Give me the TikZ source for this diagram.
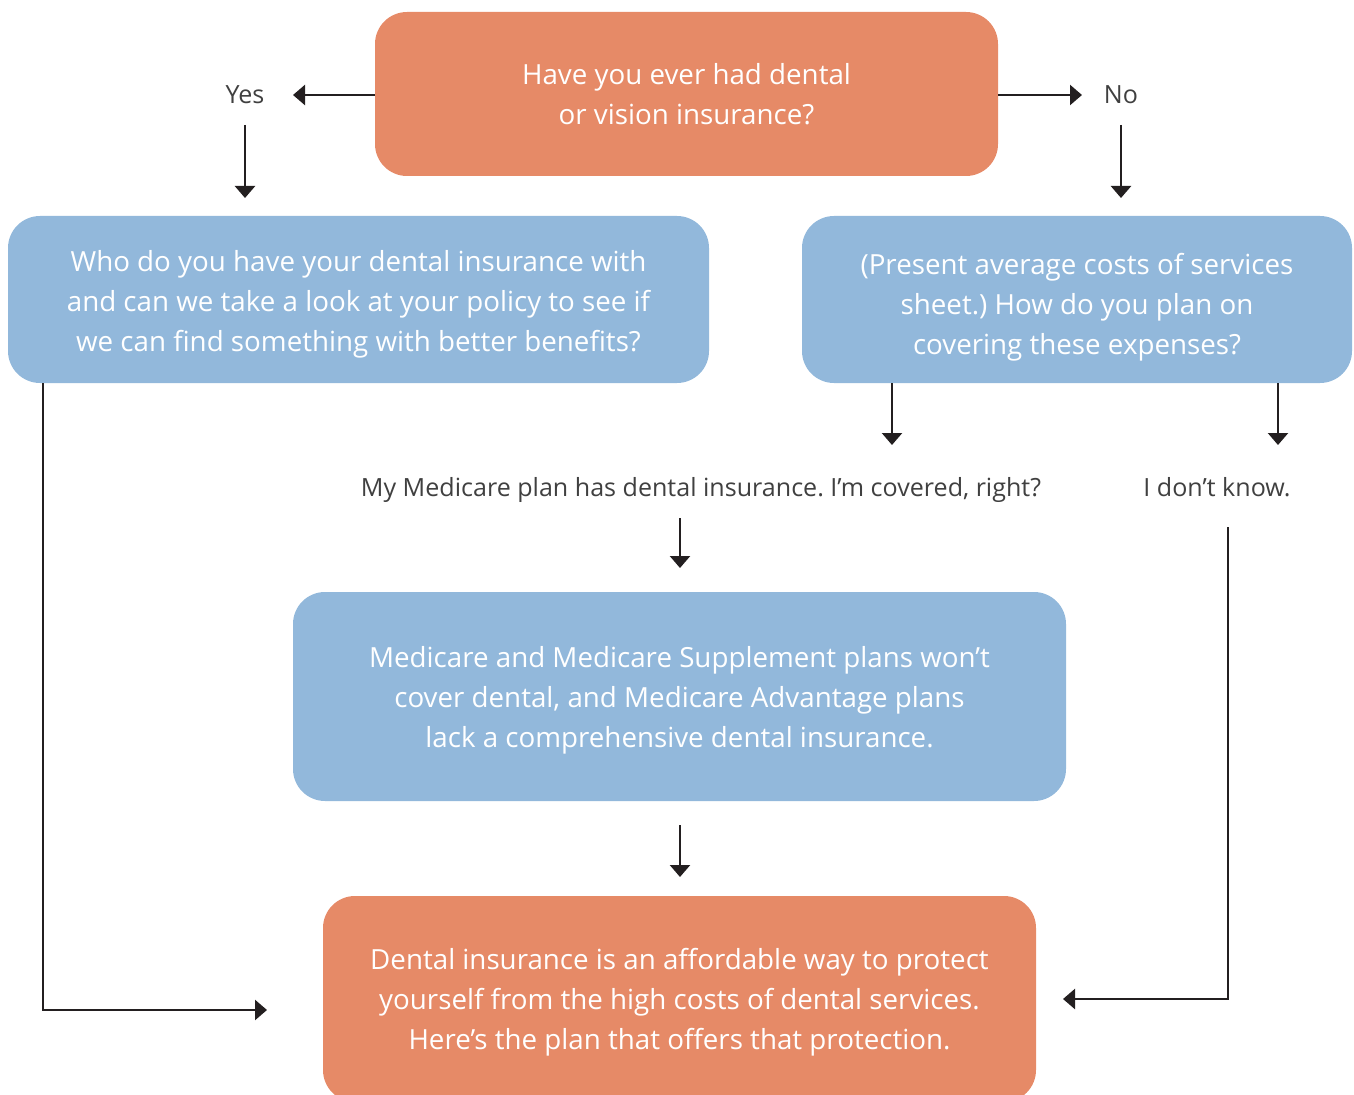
\documentclass[tikz,border=0pt]{standalone}
\usepackage{fontspec}
\setmainfont{Open Sans}
\frenchspacing
\usetikzlibrary{arrows.meta,calc}
\definecolor{boxorange}{HTML}{E68A67}
\definecolor{boxblue}{HTML}{92B8DB}
\definecolor{labelgray}{HTML}{404040}
\definecolor{arrowblack}{HTML}{231F20}
\tikzset{
  qbox/.style={rectangle, rounded corners=24pt, draw=none, inner sep=0pt},
  orangebox/.style={qbox, fill=boxorange},
  bluebox/.style={qbox, fill=boxblue},
  qtext/.style={align=center, text=white, font=\fontsize{20.8}{30}\selectfont, inner sep=0pt},
  lbl/.style={text=labelgray, font=\fontsize{18.8}{24}\selectfont, inner sep=0pt},
  arr/.style={draw=arrowblack, line width=1.8pt, -{Triangle[width=15pt,length=9pt]}},
}
\begin{document}
\begin{tikzpicture}[x=0.75pt,y=-0.75pt]
\useasboundingbox (0,0) rectangle (1354,1095);
% boxes
\node[orangebox, minimum width=623*0.75pt, minimum height=164*0.75pt,
  label={[qtext]center:{Have you ever had dental\\or vision insurance?}}] (q1) at (686.5,94) {};
\node[bluebox, minimum width=701*0.75pt, minimum height=167*0.75pt,
  label={[qtext, yshift=-3.75pt]center:{Who do you have your dental insurance with\\and can we take a look at your policy to see if\\we can find something with better benefits?}}] (q2) at (358.5,299.5) {};
\node[bluebox, minimum width=550*0.75pt, minimum height=167*0.75pt,
  label={[qtext, yshift=-6pt]center:{(Present average costs of services\\sheet.) How do you plan on\\covering these expenses?}}] (q3) at (1077,299.5) {};
\node[bluebox, minimum width=773*0.75pt, minimum height=209*0.75pt,
  label={[qtext, yshift=-3pt]center:{Medicare and Medicare Supplement plans won’t\\cover dental, and Medicare Advantage plans\\lack a comprehensive dental insurance.}}] (q4) at (679.5,696.5) {};
\node[orangebox, minimum width=713*0.75pt, minimum height=206*0.75pt,
  label={[qtext, yshift=-2.25pt]center:{Dental insurance is an affordable way to protect\\yourself from the high costs of dental services.\\Here’s the plan that offers that protection.}}] (q5) at (679.5,999) {};
% labels
\node[lbl] (yes) at (245,95) {Yes};
\node[lbl] (no) at (1121,95) {No};
\node[lbl] (covered) at (701,490) {My Medicare plan has dental insurance. I’m covered, right?};
\node[lbl] (dontknow) at (1217,487) {I don’t know.};
% coordinates for free arrow ends
\coordinate (yesTip) at (293,95);
\coordinate (yesTop) at (245,125);
\coordinate (yesBot) at (245,198);
\coordinate (noTip) at (1082,95);
\coordinate (noTop) at (1121,125);
\coordinate (noBot) at (1121,198);
\coordinate (covTip) at (892,445);
\coordinate (dkTip) at (1278,445);
\coordinate (covTop) at (680,518);
\coordinate (covBot) at (680,568);
\coordinate (q4Tip) at (680,877);
\coordinate (leftCorner) at (43,1010);
\coordinate (leftTip) at (267,1010);
\coordinate (dkTop) at (1228,527);
\coordinate (rightCorner) at (1228,999);
\coordinate (rightTip) at (1063,999);
% connectors
\draw[arr] (q1.west |- yesTip) -- (yesTip);
\draw[arr] (yesTop) -- (yesBot);
\draw[arr] (q1.east |- noTip) -- (noTip);
\draw[arr] (noTop) -- (noBot);
\draw[arr] (q3.south -| covTip) -- (covTip);
\draw[arr] (q3.south -| dkTip) -- (dkTip);
\draw[arr] (covTop) -- (covBot);
\draw[arr] (q4.south -| q4Tip) ++(0,24) -- (q4Tip);
\draw[arr] (q2.south -| leftCorner) -- (leftCorner) -- (leftTip);
\draw[arr] (dkTop) -- (rightCorner) -- (rightTip);
\end{tikzpicture}
\end{document}
